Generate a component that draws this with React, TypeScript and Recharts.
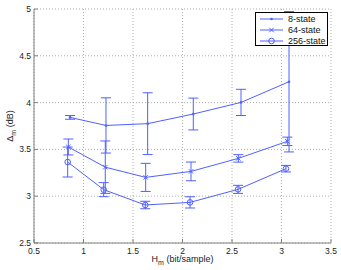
import React from 'react';
import { ComposedChart, Scatter, XAxis, YAxis, CartesianGrid, ErrorBar, Legend, Label } from 'recharts';

const hm8 = [0.864, 1.227, 1.648, 2.109, 2.591, 3.076];
const d8 = [3.842, 3.756, 3.775, 3.878, 4.002, 4.223];
const e8 = [0.02, 0.295, 0.33, 0.17, 0.14, 0.75];

const hm64 = [0.847, 1.22, 1.628, 2.086, 2.564, 3.059];
const d64 = [3.526, 3.31, 3.201, 3.265, 3.404, 3.586];
const e64 = [0.085, 0.28, 0.15, 0.1, 0.04, 0.045];

const hm256 = [0.84, 1.204, 1.624, 2.076, 2.561, 3.045];
const d256 = [3.365, 3.07, 2.906, 2.934, 3.073, 3.294];
const e256 = [0.16, 0.075, 0.04, 0.06, 0.043, 0.035];

const seriesNames = ['8-state', '64-state', '256-state'];
const xTicks = [0.5, 1, 1.5, 2, 2.5, 3, 3.5];
const yTicks = [2.5, 3, 3.5, 4, 4.5, 5];

const BLUE = '#5060ff';
const AXIS = '#808080';
const TEXT = '#222';
const FONT = '"Liberation Sans", Arial, sans-serif';

const rows = (xs: number[], ys: number[], es: number[]) =>
  xs.map((x, i) => ({ x, y: ys[i], err: es[i] }));

const data8 = rows(hm8, d8, e8);
const data64 = rows(hm64, d64, e64);
const data256 = rows(hm256, d256, e256);

const DotMarker = (p: any) => <circle cx={p.cx} cy={p.cy} r={1.3} fill={BLUE} />;
const XMarker = (p: any) => (
  <g stroke={BLUE} strokeWidth={1}>
    <line x1={p.cx - 2.2} y1={p.cy - 2.2} x2={p.cx + 2.2} y2={p.cy + 2.2} />
    <line x1={p.cx - 2.2} y1={p.cy + 2.2} x2={p.cx + 2.2} y2={p.cy - 2.2} />
  </g>
);
const OMarker = (p: any) => <circle cx={p.cx} cy={p.cy} r={2.8} fill="none" stroke={BLUE} strokeWidth={1} />;

const markerFor = (i: number, cx: number, cy: number) => {
  if (i === 0) return <DotMarker cx={cx} cy={cy} />;
  if (i === 1) return <XMarker cx={cx} cy={cy} />;
  return <OMarker cx={cx} cy={cy} />;
};

const XTick = (p: any) => (
  <g>
    <line x1={p.x} x2={p.x} y1={p.y} y2={p.y - 4} stroke={AXIS} strokeWidth={1} />
    <text x={p.x} y={p.y + 10.5} textAnchor="middle" fontSize={8.5} fontFamily={FONT} fill={TEXT}>
      {p.payload.value}
    </text>
  </g>
);

const YTick = (p: any) => (
  <g>
    <line x1={p.x} x2={p.x + 4} y1={p.y} y2={p.y} stroke={AXIS} strokeWidth={1} />
    <text x={p.x - 3} y={p.y + 3} textAnchor="end" fontSize={8.5} fontFamily={FONT} fill={TEXT}>
      {p.payload.value}
    </text>
  </g>
);

const LegendBox = () => (
  <svg width={73} height={34} style={{ display: 'block' }}>
    <rect x={0.5} y={0.5} width={72} height={33} fill="#fff" stroke="#000" strokeWidth={1} />
    {seriesNames.map((n, i) => {
      const y = 7 + i * 11;
      return (
        <g key={n}>
          <line x1={5} x2={28} y1={y} y2={y} stroke={BLUE} strokeWidth={1} />
          {markerFor(i, 16.5, y)}
          <text x={33} y={y + 3.2} fontSize={9} fontFamily={FONT} fill="#111">{n}</text>
        </g>
      );
    })}
  </svg>
);

export default function App() {
  return (
    <div style={{ position: 'absolute', left: 0, top: 0 }}>
      <ComposedChart width={341} height={270} margin={{ top: 9, right: 10, left: 0, bottom: 0 }}>
        <CartesianGrid stroke="#b0b0b0" strokeDasharray="1 2" />
        <XAxis
          type="number"
          dataKey="x"
          domain={[0.5, 3.5]}
          ticks={xTicks}
          allowDataOverflow
          height={27}
          tickSize={0}
          tickMargin={0}
          tickLine={false}
          stroke={AXIS}
          tick={XTick}
        >
          <Label
            content={() => (
              <text x={182.5} y={262} textAnchor="middle" fontSize={9} fontFamily={FONT} fill={TEXT}>
                H<tspan fontSize={7} dy={2.5}>m</tspan>
                <tspan dy={-2.5}> (bit/sample)</tspan>
              </text>
            )}
          />
        </XAxis>
        <YAxis
          type="number"
          dataKey="y"
          domain={[2.5, 5]}
          ticks={yTicks}
          allowDataOverflow
          width={34}
          tickSize={0}
          tickMargin={0}
          tickLine={false}
          stroke={AXIS}
          tick={YTick}
        >
          <Label
            content={() => (
              <text
                x={13}
                y={126}
                textAnchor="middle"
                fontSize={9}
                fontFamily={FONT}
                fill={TEXT}
                transform="rotate(-90 13 126)"
              >
                Δ<tspan fontSize={7} dy={2.5}>m</tspan>
                <tspan dy={-2.5}> (dB)</tspan>
              </text>
            )}
          />
        </YAxis>
        <Legend
          layout="horizontal"
          align="center"
          verticalAlign="middle"
          wrapperStyle={{ left: 255, top: 12, width: 73, height: 34 }}
          content={() => <LegendBox />}
        />
        <Scatter
          name={seriesNames[0]}
          data={data8}
          line={{ stroke: BLUE, strokeWidth: 1 }}
          lineJointType="linear"
          shape={DotMarker}
          isAnimationActive={false}
        >
          <ErrorBar dataKey="err" direction="y" width={5} stroke={BLUE} strokeWidth={1} />
        </Scatter>
        <Scatter
          name={seriesNames[1]}
          data={data64}
          line={{ stroke: BLUE, strokeWidth: 1 }}
          lineJointType="linear"
          shape={XMarker}
          isAnimationActive={false}
        >
          <ErrorBar dataKey="err" direction="y" width={5} stroke={BLUE} strokeWidth={1} />
        </Scatter>
        <Scatter
          name={seriesNames[2]}
          data={data256}
          line={{ stroke: BLUE, strokeWidth: 1 }}
          lineJointType="linear"
          shape={OMarker}
          isAnimationActive={false}
        >
          <ErrorBar dataKey="err" direction="y" width={5} stroke={BLUE} strokeWidth={1} />
        </Scatter>
      </ComposedChart>
    </div>
  );
}
